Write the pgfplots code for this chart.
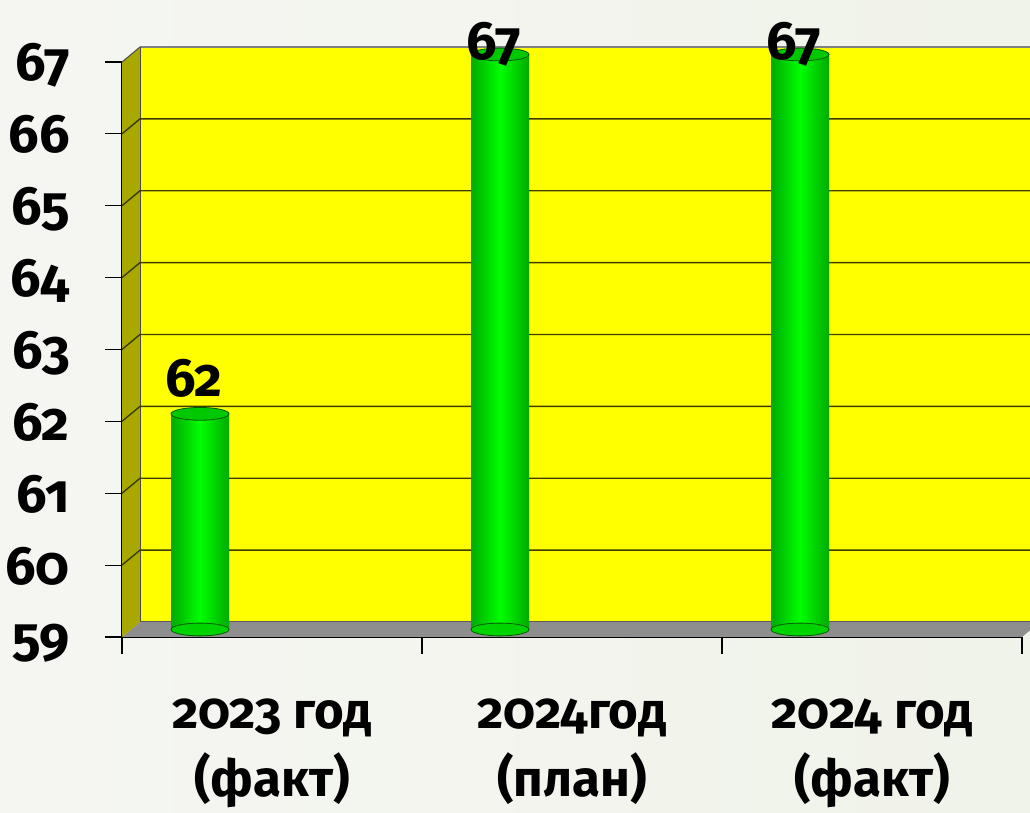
\documentclass[border=0pt]{standalone}
\usepackage{fontspec}
\setmainfont{Fira Sans}[Numbers=OldStyle]
\usepackage{pgfplots}
\usepackage{pgfplotstable}
\pgfplotsset{compat=1.18}
\definecolor{bgL}{HTML}{F5F6F2}
\definecolor{bgR}{HTML}{F0F3E9}
\definecolor{wall}{HTML}{FFFF00}
\definecolor{sidewall}{HTML}{A8A800}
\definecolor{floorc}{HTML}{8E8E8E}
\definecolor{gridc}{HTML}{3C3C00}
\definecolor{cylM}{HTML}{00FF00}
\definecolor{cylE}{HTML}{00AA00}
\definecolor{cyltop}{HTML}{00C800}
\definecolor{cyledge}{HTML}{005A00}

\pgfplotstableread{
x y off
0.23 62 17
1.23 67 -5
2.23 67 -5
}\bardata

\pgfplotsset{cyl/.style={ybar, bar width=58pt, bar shift=0pt, draw=none,
  left color=cylE, right color=cylE, middle color=cylM,
  xshift=9pt, yshift=7.5pt}}

\begin{document}
\begin{tikzpicture}
\path[use as bounding box] (0,0) rectangle (1030pt,813pt);
\clip (0,0) rectangle (1030pt,813pt);
\shade[left color=bgL, right color=bgR] (0,0) rectangle (1030pt,813pt);
\begin{axis}[
  at={(122pt,176pt)}, anchor=south west,
  scale only axis, width=900pt, height=575pt,
  xmin=0, xmax=3, ymin=59, ymax=67,
  clip=false,
  axis x line*=bottom, axis y line*=left,
  axis line style={black, line width=1.2pt},
  tick align=outside,
  major tick length=17pt,
  tick style={black, line width=1.2pt},
  xtick={0,1,2,3}, xticklabels={},
  extra x ticks={0.5,1.5,2.5},
  extra x tick labels={{2023 год\\(факт)},{2024год\\(план)},{2024 год\\(факт)}},
  extra x tick style={major tick length=0pt},
  xticklabel style={align=center, anchor=north, inner sep=0pt,
    font=\bfseries\fontsize{51}{68}\selectfont, yshift=-62pt},
  ytick={59,60,...,67},
  yticklabel style={anchor=base east, inner sep=0pt,
    font=\bfseries\fontsize{54}{60}\selectfont, yshift=-19pt, xshift=-35pt},
  /pgf/number format/assume math mode=true,
]
% floor
\fill[floorc] (axis cs:0,59) -- (axis cs:3,59) -- ([shift={(18pt,15pt)}]axis cs:3,59) -- ([shift={(18pt,15pt)}]axis cs:0,59) -- cycle;
% back wall
\fill[wall] ([shift={(18pt,15pt)}]axis cs:0,59) rectangle ([shift={(18pt,15pt)}]axis cs:3.1,67);
\draw[gray, line width=1.5pt] ([shift={(18pt,15pt)}]axis cs:0,67) -- ([shift={(18pt,15pt)}]axis cs:3.1,67);
% side wall
\fill[sidewall] (axis cs:0,59) -- ([shift={(18pt,15pt)}]axis cs:0,59) -- ([shift={(18pt,15pt)}]axis cs:0,67) -- (axis cs:0,67) -- cycle;
\draw[gray!60!black, line width=1pt] ([shift={(18pt,15pt)}]axis cs:0,59) -- ([shift={(18pt,15pt)}]axis cs:0,67);
\draw[gray!60!black, line width=1pt] (axis cs:0,67) -- ([shift={(18pt,15pt)}]axis cs:0,67);
\pgfplotsinvokeforeach{60,61,...,66}{
  \draw[gridc, line width=1.4pt] (axis cs:0,#1) -- ([shift={(18pt,15pt)}]axis cs:0,#1) -- ([shift={(18pt,15pt)}]axis cs:3.1,#1);
}
\draw[gray!70!black, line width=1pt] ([shift={(18pt,15pt)}]axis cs:0,59) -- ([shift={(18pt,15pt)}]axis cs:3.1,59);
% cylinder bottoms
\addplot[only marks, mark=*, mark size=29pt,
  mark options={yscale=0.22, fill=cylE!50!cylM, draw=cyledge, line width=0.8pt},
  xshift=9pt, yshift=7.5pt] table[x=x, y expr=59] {\bardata};
% cylinder bodies (one plot each so that each is shaded on its own)
\addplot[cyl] coordinates {(0.23,62)};
\addplot[cyl] coordinates {(1.23,67)};
\addplot[cyl] coordinates {(2.23,67)};
% cylinder tops + labels
\addplot[only marks, mark=*, mark size=29pt,
  mark options={yscale=0.22, fill=cyltop, draw=cyledge, line width=0.8pt},
  xshift=9pt, yshift=7.5pt,
  visualization depends on={\thisrow{off} \as \off},
  nodes near coords,
  every node near coord/.append style={anchor=base, inner sep=0pt,
    font=\bfseries\fontsize{54}{60}\selectfont, xshift=-6pt, yshift=\off pt}]
  table[x=x, y=y] {\bardata};
\end{axis}
\end{tikzpicture}
\end{document}
